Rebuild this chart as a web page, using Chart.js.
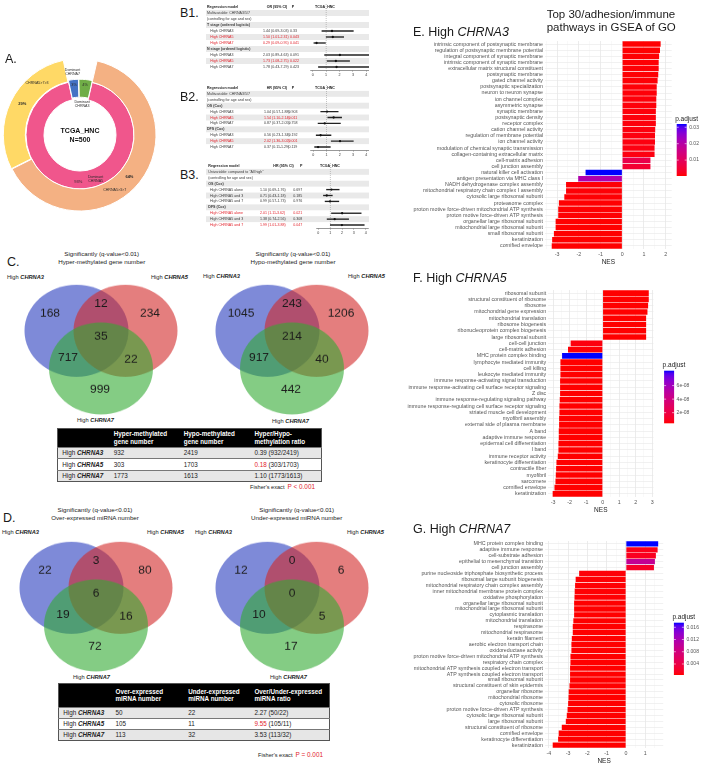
<!DOCTYPE html>
<html>
<head>
<meta charset="utf-8">
<title>CHRNA3/5/7 in TCGA_HNC</title>
<script src="https://cdn.jsdelivr.net/npm/chart.js@4.4.1/dist/chart.umd.min.js"></script>
<style>
  body { margin: 0; background: #fff; }
  #page { position: relative; width: 709px; height: 768px; overflow: hidden; background: #fff;
          font-family: "Liberation Sans", Arial, sans-serif; color: #1a1a1a; }
  #page canvas { position: absolute; }
  .t { position: absolute; white-space: nowrap; line-height: 1.15; }
  table.tb { position: absolute; border-collapse: collapse; table-layout: fixed; font-size: 6.3px; color: #222;
             border: 0.8px solid #555; }
  table.tb th { background: #000; color: #fff; text-align: left; font-weight: bold; padding: 0 0 0 4px; line-height: 1.2; }
  table.tb td { padding: 0 0 0 4px; border-top: 0.8px solid #777; }
  table.tb tr.g td { background: #e6e6e6; }
  .red { color: #e3232c; }
</style>
</head>
<body>
<div id="page"></div>
<script>
// ---------- A. dominant subunit, TCGA_HNC (N=500)
const domLabels = ['Dominant CHRNA5', 'Dominant CHRNA7', 'Dominant CHRNA3'];
const domPct = [93, 3, 4];
const orderLabels = ['CHRNA5>3>7', 'CHRNA5>7>3'];
const orderPct = [64, 29];

// ---------- B. regression models
const b1Rows = ['Multivariable: CHRNA3/5/7', '(controlling for age and sex)', 'T stage (ordered logistic)',
  'High CHRNA3', 'High CHRNA5', 'High CHRNA7', 'N stage (ordered logistic)', 'High CHRNA3', 'High CHRNA5', 'High CHRNA7'];
const b1Est = [null, null, null, 1.44, 1.50, 0.29, null, 2.03, 1.73, 1.78];
const b1Lo  = [null, null, null, 0.69, 1.01, 0.09, null, 0.89, 1.08, 0.43];
const b1Hi  = [null, null, null, 3.03, 2.31, 0.95, null, 4.63, 2.75, 7.29];
const b1P   = ['', '', '', '0.33', '0.043', '0.041', '', '0.091', '0.022', '0.423'];

const b2Rows = ['Multivariable: CHRNA3/5/7', '(controlling for age and sex)', 'OS (Cox)',
  'High CHRNA3', 'High CHRNA5', 'High CHRNA7', 'DFS (Cox)', 'High CHRNA3', 'High CHRNA5', 'High CHRNA7'];
const b2Est = [null, null, null, 1.04, 1.54, 0.87, null, 0.56, 2.02, 0.37];
const b2Lo  = [null, null, null, 0.57, 1.10, 0.37, null, 0.23, 1.36, 0.11];
const b2Hi  = [null, null, null, 1.88, 2.14, 2.05, null, 1.34, 3.02, 1.29];
const b2P   = ['', '', '', '0.903', '0.011', '0.758', '', '0.192', '0.001', '0.119'];

const b3Rows = ['Univariable: compared to "All high"', '(controlling for age and sex)', 'OS (Cox)',
  'High CHRNA5 alone', 'High CHRNA5 and 3', 'High CHRNA5 and 7', 'DFS (Cox)', 'High CHRNA5 alone', 'High CHRNA5 and 3', 'High CHRNA5 and 7'];
const b3Est = [null, null, null, 1.10, 0.71, 0.99, null, 2.01, 1.38, 1.99];
const b3Lo  = [null, null, null, 0.69, 0.43, 0.57, null, 1.11, 0.74, 1.01];
const b3Hi  = [null, null, null, 1.76, 1.18, 1.73, null, 3.62, 2.56, 3.88];
const b3P   = ['', '', '', '0.697', '0.185', '0.976', '', '0.021', '0.308', '0.047'];
const forestTicks = [0, 1, 2, 3, 4];

// ---------- C/D. Venn region counts: [only 3, only 5, only 7, 3&5, 3&7, 5&7, all]
const genes = ['CHRNA3', 'CHRNA5', 'CHRNA7'];
const vennHyper = [168, 234, 999, 12, 717, 22, 35];
const vennHypo  = [1045, 1206, 442, 243, 917, 40, 214];
const vennOver  = [22, 80, 72, 3, 19, 16, 6];
const vennUnder = [12, 6, 17, 0, 10, 5, 0];
const regionSets = [[0], [1], [2], [0, 1], [0, 2], [1, 2], [0, 1, 2]];

// ---------- E/F/G. GSEA of GO
const eTerms = ['intrinsic component of postsynaptic membrane', 'regulation of postsynaptic membrane potential',
  'integral component of synaptic membrane', 'intrinsic component of synaptic membrane',
  'extracellular matrix structural constituent', 'postsynaptic membrane', 'gated channel activity',
  'postsynaptic specialization', 'neuron to neuron synapse', 'ion channel complex', 'asymmetric synapse',
  'synaptic membrane', 'postsynaptic density', 'receptor complex', 'cation channel activity',
  'regulation of membrane potential', 'ion channel activity', 'modulation of chemical synaptic transmission',
  'collagen-containing extracellular matrix', 'cell-matrix adhesion', 'cell junction assembly',
  'natural killer cell activation', 'antigen presentation via MHC class I', 'NADH dehydrogenase complex assembly',
  'mitochondrial respiratory chain complex I assembly', 'cytosolic large ribosomal subunit', 'proteasome complex',
  'proton motive force-driven mitochondrial ATP synthesis', 'proton motive force-driven ATP synthesis',
  'organellar large ribosomal subunit', 'mitochondrial large ribosomal subunit', 'small ribosomal subunit',
  'keratinization', 'cornified envelope'];
const eNES = [1.77, 1.74, 1.70, 1.68, 1.68, 1.66, 1.63, 1.59, 1.59, 1.57, 1.57, 1.55, 1.55, 1.55, 1.52, 1.51, 1.51,
  1.49, 1.49, 1.30, 1.30, -1.69, -2.03, -2.59, -2.59, -2.67, -2.92, -2.95, -2.95, -3.07, -3.07, -3.15, -3.23, -3.25];
const ePadj = [0.0004, 0.0004, 0.0005, 0.0005, 0.0006, 0.0005, 0.0006, 0.0007, 0.0007, 0.0008, 0.0008, 0.0008,
  0.0009, 0.0009, 0.0010, 0.0010, 0.0011, 0.0012, 0.0012, 0.0075, 0.0045, 0.0320, 0.0210, 0.0006, 0.0006, 0.0005,
  0.0004, 0.0004, 0.0004, 0.0003, 0.0003, 0.0003, 0.0003, 0.0003];

const fTerms = ['ribosomal subunit', 'structural constituent of ribosome', 'ribosome', 'mitochondrial gene expression',
  'mitochondrial translation', 'ribosome biogenesis', 'ribonucleoprotein complex biogenesis', 'large ribosomal subunit',
  'cell-cell junction', 'cell-matrix adhesion', 'MHC protein complex binding', 'lymphocyte mediated immunity',
  'cell killing', 'leukocyte mediated immunity', 'immune response-activating signal transduction',
  'immune response-activating cell surface receptor signaling', 'Z disc', 'immune response-regulating signaling pathway',
  'immune response-regulating cell surface receptor signaling', 'striated muscle cell development', 'myofibril assembly',
  'external side of plasma membrane', 'A band', 'adaptive immune response', 'epidermal cell differentiation', 'I band',
  'immune receptor activity', 'keratinocyte differentiation', 'contractile fiber', 'myofibril', 'sarcomere',
  'cornified envelope', 'keratinization'];
const fNES = [2.79, 2.79, 2.75, 2.71, 2.63, 2.63, 2.63, 2.63, -1.94, -2.10, -2.46, -2.56, -2.56, -2.56, -2.58, -2.58,
  -2.58, -2.60, -2.62, -2.62, -2.64, -2.64, -2.66, -2.66, -2.68, -2.68, -2.72, -2.80, -2.82, -2.84, -2.86, -2.92, -3.03];
const fPadj = [4.3e-9, 4.3e-9, 4.3e-9, 4.3e-9, 4.3e-9, 4.3e-9, 4.3e-9, 4.3e-9, 6.1e-9, 5.2e-9, 8.2e-8, 4.3e-9, 4.3e-9,
  4.3e-9, 4.3e-9, 4.3e-9, 4.3e-9, 4.3e-9, 4.3e-9, 4.3e-9, 4.3e-9, 4.3e-9, 4.3e-9, 4.3e-9, 4.3e-9, 4.3e-9, 4.3e-9,
  4.3e-9, 4.3e-9, 4.3e-9, 4.3e-9, 4.3e-9, 4.3e-9];

const gTerms = ['MHC protein complex binding', 'adaptive immune response', 'cell-substrate adhesion',
  'epithelial to mesenchymal transition', 'cell junction assembly', 'purine nucleoside triphosphate biosynthetic process',
  'ribosomal large subunit biogenesis', 'mitochondrial respiratory chain complex assembly',
  'inner mitochondrial membrane protein complex', 'oxidative phosphorylation', 'organellar large ribosomal subunit',
  'mitochondrial large ribosomal subunit', 'cytoplasmic translation', 'mitochondrial translation', 'respirasome',
  'mitochondrial respirasome', 'keratin filament', 'aerobic electron transport chain', 'oxidoreductase activity',
  'proton motive force-driven mitochondrial ATP synthesis', 'respiratory chain complex',
  'mitochondrial ATP synthesis coupled electron transport', 'ATP synthesis coupled electron transport',
  'small ribosomal subunit', 'structural constituent of skin epidermis', 'organellar ribosome', 'mitochondrial ribosome',
  'cytosolic ribosome', 'proton motive force-driven ATP synthesis', 'cytosolic large ribosomal subunit',
  'large ribosomal subunit', 'structural constituent of ribosome', 'cornified envelope', 'keratinocyte differentiation',
  'keratinization'];
const gNES = [1.67, 1.64, 1.55, 1.50, 1.45, -2.43, -2.61, -2.64, -2.66, -2.67, -2.69, -2.69, -2.69, -2.73, -2.76, -2.76,
  -2.81, -2.83, -2.83, -2.88, -2.88, -2.90, -2.90, -2.90, -2.93, -2.97, -2.98, -3.00, -3.03, -3.07, -3.12, -3.33,
  -3.49, -3.52, -3.80];
const gPadj = [0.0175, 0.0012, 0.0015, 0.0098, 0.0020, 0.0006, 0.0005, 0.0005, 0.0005, 0.0005, 0.0004, 0.0004,
  0.0004, 0.0004, 0.0004, 0.0004, 0.0004, 0.0004, 0.0004, 0.0004, 0.0004, 0.0004, 0.0004, 0.0004, 0.0004, 0.0004,
  0.0004, 0.0004, 0.0004, 0.0004, 0.0004, 0.0004, 0.0004, 0.0004, 0.0004];

// ================= helpers =================
const FAM = '"Liberation Sans", Arial, sans-serif';
Chart.defaults.font.family = FAM;
Chart.defaults.animation = false;
Chart.defaults.responsive = false;
Chart.defaults.events = [];
Chart.defaults.plugins.legend.display = false;
Chart.defaults.plugins.tooltip.enabled = false;

const page = document.getElementById('page');

function mkCanvas(left, top, w, h, css) {
  const c = document.createElement('canvas');
  c.width = w; c.height = h;
  c.style.left = left + 'px'; c.style.top = top + 'px';
  if (css) Object.assign(c.style, css);
  page.appendChild(c);
  return c;
}

function addText(x, y, html, size, align, css) {
  const d = document.createElement('div');
  d.className = 't';
  d.innerHTML = html;
  d.style.left = x + 'px';
  d.style.top = y + 'px';
  d.style.fontSize = size + 'px';
  const tx = align === 'center' ? '-50%' : align === 'right' ? '-100%' : '0';
  d.style.transform = 'translate(' + tx + ',-50%)';
  if (css) Object.assign(d.style, css);
  page.appendChild(d);
  return d;
}

// ggplot-like red -> blue gradient (interpolated in Lab)
function toLin(c) { c /= 255; return c <= 0.04045 ? c / 12.92 : Math.pow((c + 0.055) / 1.055, 2.4); }
function toSrgb(c) { const v = c <= 0.0031308 ? 12.92 * c : 1.055 * Math.pow(c, 1 / 2.4) - 0.055; return Math.round(Math.max(0, Math.min(1, v)) * 255); }
function rgbToLab(rgb) {
  const [r, g, b] = rgb.map(toLin);
  const x = (r * 0.4124 + g * 0.3576 + b * 0.1805) / 0.95047;
  const y = r * 0.2126 + g * 0.7152 + b * 0.0722;
  const z = (r * 0.0193 + g * 0.1192 + b * 0.9505) / 1.08883;
  const f = t => t > 0.008856 ? Math.cbrt(t) : 7.787 * t + 16 / 116;
  return [116 * f(y) - 16, 500 * (f(x) - f(y)), 200 * (f(y) - f(z))];
}
function labToRgb(lab) {
  const fy = (lab[0] + 16) / 116, fx = fy + lab[1] / 500, fz = fy - lab[2] / 200;
  const inv = t => t * t * t > 0.008856 ? t * t * t : (t - 16 / 116) / 7.787;
  const x = inv(fx) * 0.95047, y = inv(fy), z = inv(fz) * 1.08883;
  return [x * 3.2406 - y * 1.5372 - z * 0.4986, -x * 0.9689 + y * 1.8758 + z * 0.0415, x * 0.0557 - y * 0.2040 + z * 1.0570].map(toSrgb);
}
const LAB_LO = rgbToLab([255, 0, 0]), LAB_HI = rgbToLab([0, 0, 255]);
function padjColor(t) {
  const c = labToRgb(LAB_LO.map((v, i) => v + (LAB_HI[i] - v) * t));
  return 'rgb(' + c.join(',') + ')';
}

// ================= A. doughnut =================
const ringText = {
  id: 'ringText',
  afterDraw(chart, args, o) {
    const ctx = chart.ctx;
    ctx.save();
    ctx.textAlign = 'center';
    ctx.textBaseline = 'middle';
    o.items.forEach(it => {
      const arc = chart.getDatasetMeta(it.ds).data[it.idx];
      const p = arc.getProps(['x', 'y', 'startAngle', 'endAngle', 'innerRadius', 'outerRadius']);
      const off = arc.options.offset || 0;
      const mid = (p.startAngle + p.endAngle) / 2;
      const a = p.startAngle + it.af * (p.endAngle - p.startAngle);
      const r = p.innerRadius + it.rf * (p.outerRadius - p.innerRadius);
      const cx = p.x + Math.cos(mid) * off + Math.cos(a) * r;
      const cy = p.y + Math.sin(mid) * off + Math.sin(a) * r;
      ctx.font = (it.bold ? 'bold ' : '') + it.size + 'px ' + FAM;
      ctx.fillStyle = '#2a2a2a';
      it.lines.forEach((t, k) => ctx.fillText(t, cx, cy + (k - (it.lines.length - 1) / 2) * it.size * 1.1));
    });
    const c0 = chart.getDatasetMeta(0).data[0];
    ctx.font = 'bold 7px ' + FAM;
    ctx.fillStyle = '#111';
    ctx.fillText('TCGA_HNC', c0.x, c0.y - 3.6);
    ctx.fillText('N=' + o.n, c0.x, c0.y + 4.6);
    ctx.restore();
  }
};

const splitDom = s => s.split(' ');
new Chart(mkCanvas(-5, 45, 170, 180), {
  type: 'doughnut',
  data: {
    labels: ['a', 'b', 'c'],
    datasets: [
      { data: [...orderPct, 100 - orderPct[0] - orderPct[1]], weight: 22,
        backgroundColor: ['#f4b183', '#ffd966', 'rgba(0,0,0,0)'], borderColor: '#fff',
        borderWidth: [1, 1, 0], offset: [0, 3, 0] },
      { data: domPct, weight: 18,
        backgroundColor: ['#f0568c', '#4472c4', '#70ad47'], borderColor: '#fff',
        borderWidth: 1, offset: [0, 4, 4] }
    ]
  },
  options: {
    radius: 76,
    cutout: '47.4%',
    rotation: 13,
    layout: { padding: 0, autoPadding: false },
    plugins: {
      ringText: {
        n: 500,
        items: [
          { ds: 0, idx: 1, af: 0.53, rf: 0.4, size: 4, bold: true, lines: [orderPct[1] + '%'] },
          { ds: 0, idx: 1, af: 0.75, rf: 0.5, size: 3.6, lines: [orderLabels[1]] },
          { ds: 0, idx: 0, af: 0.51, rf: 0.5, size: 4, bold: true, lines: [orderPct[0] + '%'] },
          { ds: 0, idx: 0, af: 0.585, rf: 0.5, size: 3.6, lines: [orderLabels[0]] },
          { ds: 1, idx: 0, af: 0.505, rf: 0.6, size: 4, lines: [domPct[0] + '%'] },
          { ds: 1, idx: 0, af: 0.44, rf: 0.58, size: 3.6, lines: splitDom(domLabels[0]) },
          { ds: 1, idx: 1, af: 0.5, rf: 0.55, size: 3.8, lines: [domPct[1] + '%'] },
          { ds: 1, idx: 2, af: 0.5, rf: 0.55, size: 3.8, lines: [domPct[2] + '%'] },
          { ds: 1, idx: 1, af: 0.5, rf: 1.28, size: 3.6, lines: splitDom(domLabels[1]) },
          { ds: 1, idx: 2, af: 0.35, rf: -0.5, size: 3.6, lines: splitDom(domLabels[2]) }
        ]
      }
    }
  },
  plugins: [ringText]
});
addText(5, 59, 'A.', 12.5, 'left');

// ================= B. forest tables =================
const forestTable = {
  id: 'forestTable',
  beforeDatasetsDraw(chart, args, o) {
    const { ctx, chartArea, scales: { x, y } } = chart;
    const labels = chart.data.labels;
    const band = y.getPixelForValue(1) - y.getPixelForValue(0);
    ctx.save();
    labels.forEach((lab, i) => {
      if (i % 2 === 1) {
        ctx.fillStyle = '#e9e9e9';
        ctx.fillRect(1, y.getPixelForValue(i) - band / 2, chart.width - 1, band);
      }
    });
    const x1 = x.getPixelForValue(1);
    ctx.strokeStyle = '#8a8a8a'; ctx.lineWidth = 0.5; ctx.setLineDash([1, 1]);
    ctx.beginPath(); ctx.moveTo(x1, y.getPixelForValue(0) - band / 2); ctx.lineTo(x1, chartArea.bottom); ctx.stroke();
    ctx.setLineDash([]);
    ctx.textBaseline = 'middle';
    labels.forEach((lab, i) => {
      const yc = y.getPixelForValue(i);
      if (i === 0) {
        ctx.font = 'bold ' + o.size + 'px ' + FAM; ctx.fillStyle = '#222';
        [lab, o.effHead, 'P', 'TCGA_HNC'].forEach((h, k) => ctx.fillText(h, o.headX[k], yc));
        return;
      }
      const e = chart.data.datasets[1].data[i];
      const ci = chart.data.datasets[0].data[i];
      const group = e == null && i >= 3;
      const sig = e != null && parseFloat(o.pv[i - 1]) < 0.05;
      ctx.font = (group ? 'bold ' : '') + o.size + 'px ' + FAM;
      ctx.fillStyle = sig ? '#e3232c' : '#3a3a3a';
      ctx.fillText(lab, e == null ? o.labelX : o.labelX + o.indent, yc);
      if (e != null) {
        ctx.fillText(e.toFixed(2) + ' (' + ci[0].toFixed(2) + '-' + ci[1].toFixed(2) + ')', o.valX, yc);
        ctx.fillText(o.pv[i - 1], o.pX, yc);
      }
    });
    ctx.restore();
  }
};

function forest(canvas, rows, est, lo, hi, pv, effHead, geo) {
  const labels = ['Regression model', ...rows];
  const ci = [null, ...rows.map((r, i) => est[i] == null ? null : [lo[i], hi[i]])];
  return new Chart(canvas, {
    type: 'bar',
    data: {
      labels,
      datasets: [
        { type: 'bar', indexAxis: 'y', data: ci, backgroundColor: '#222', barThickness: 0.7, clip: 0, order: 2 },
        { type: 'line', indexAxis: 'y', data: [null, ...est], showLine: false, pointRadius: 1.15,
          pointBackgroundColor: '#111', pointBorderWidth: 0, order: 1 }
      ]
    },
    options: {
      indexAxis: 'y',
      layout: { padding: { left: geo.left, right: geo.right, top: 0, bottom: 0 }, autoPadding: false },
      scales: {
        y: { display: false },
        x: {
          min: -0.2, max: 4.2,
          afterBuildTicks: s => { s.ticks = forestTicks.map(v => ({ value: v })); },
          afterFit: s => { s.height = 9; s.paddingLeft = 0; s.paddingRight = 0; },
          grid: { drawOnChartArea: false, drawTicks: true, tickLength: 1.5, color: '#333', lineWidth: 0.5 },
          border: { display: true, color: '#333', width: 0.5 },
          ticks: { font: { size: 3.6 }, color: '#333', padding: 1, maxRotation: 0, autoSkip: false }
        }
      },
      plugins: { forestTable: Object.assign({ pv, effHead, size: 3.6 }, geo.text) }
    },
    plugins: [forestTable]
  });
}

forest(mkCanvas(205, 4, 164, 75), b1Rows, b1Est, b1Lo, b1Hi, b1P, 'OR (95% CI)',
  { left: 105, right: 0, text: { headX: [2, 61.7, 86.7, 110], labelX: 2, indent: 3.3, valX: 58, pX: 85 } });
forest(mkCanvas(205, 85, 164, 74), b2Rows, b2Est, b2Lo, b2Hi, b2P, 'HR (95% CI)',
  { left: 105.5, right: 0, text: { headX: [2, 61.7, 86.7, 110], labelX: 2, indent: 3.3, valX: 59, pX: 83.5 } });
forest(mkCanvas(205, 163, 164, 74), b3Rows, b3Est, b3Lo, b3Hi, b3P, 'HR (95% CI)',
  { left: 111, right: 1, text: { headX: [3.3, 68.3, 95, 115], labelX: 3.3, indent: 1.7, valX: 55, pX: 88.3 } });
addText(180, 13, 'B1.', 12.5, 'left');
addText(180, 96.5, 'B2.', 12.5, 'left');
addText(180, 175, 'B3.', 12.5, 'left');

// ================= C/D. Venn diagrams =================
const vennSets = [[-24.5, 21], [24.5, 21], [0, -21.4]];
const vennColors = ['rgba(40,60,190,0.6)', 'rgba(210,40,40,0.6)', 'rgba(50,170,50,0.6)'];
const vennSpots = [[-51, 40], [49, 40], [-1, -45.5], [0, 51], [-33, -10], [30, -12], [0, 14]];

const vennText = {
  id: 'vennText',
  afterDatasetsDraw(chart, args, o) {
    const { ctx, scales: { x, y } } = chart;
    ctx.save();
    ctx.font = '12px ' + FAM; ctx.fillStyle = '#1a1a1a';
    ctx.textAlign = 'center'; ctx.textBaseline = 'middle';
    o.counts.forEach((n, k) => ctx.fillText(String(n), x.getPixelForValue(vennSpots[k][0]), y.getPixelForValue(vennSpots[k][1])));
    ctx.restore();
  }
};

function venn(left, top, counts) {
  return new Chart(mkCanvas(left, top, 160, 150, { transform: 'scaleY(0.885)', transformOrigin: '0 0' }), {
    type: 'bubble',
    data: {
      datasets: vennSets.map((s, k) => ({
        data: [{ x: s[0], y: s[1], r: 52 }], backgroundColor: vennColors[k], borderWidth: 0,
        order: 3 - k, clip: false
      }))
    },
    options: {
      layout: { padding: 0, autoPadding: false },
      scales: { x: { display: false, min: -80, max: 80 }, y: { display: false, min: -75, max: 75 } },
      plugins: { vennText: { counts } }
    },
    plugins: [vennText]
  });
}

venn(21, 282.6, vennHyper);
venn(212, 282.6, vennHypo);
venn(16, 539.8, vennOver);
venn(212, 539.8, vennUnder);

const hi = g => 'High <b><i>' + g + '</i></b>';
function vennLabels(p) {
  addText(p.x3, p.yTop, hi(genes[0]), 5.7, 'left');
  addText(p.x5, p.yTop, hi(genes[1]), 5.7, 'left');
  addText(p.x7, p.yBot, hi(genes[2]), 5.7, 'left');
  addText(p.cx, p.t1, 'Significantly (q-value&lt;0.01)', 6.2, 'center');
  addText(p.cx, p.t1 + 8.1, p.title, 6.2, 'center');
}
vennLabels({ x3: 7, x5: 151, x7: 77, yTop: 276.7, yBot: 420, cx: 101.7, t1: 253.5, title: 'Hyper-methylated gene number' });
vennLabels({ x3: 203, x5: 348, x7: 272, yTop: 275.5, yBot: 421, cx: 293, t1: 254, title: 'Hypo-methylated gene number' });
vennLabels({ x3: 2, x5: 147, x7: 73, yTop: 532, yBot: 677, cx: 95, t1: 510, title: 'Over-expressed miRNA number' });
vennLabels({ x3: 195, x5: 347, x7: 270, yTop: 532, yBot: 677, cx: 296.7, t1: 510, title: 'Under-expressed miRNA number' });
addText(7, 262, 'C.', 12.5, 'left');
addText(3, 518, 'D.', 12.5, 'left');

// tables built from the Venn counts
const setTotal = (counts, g) => counts.reduce((s, n, k) => s + (regionSets[k].includes(g) ? n : 0), 0);
function countTable(left, top, colW, headH, rowH, heads, a, b, redRow) {
  let h = '<table class="tb" style="left:' + left + 'px;top:' + top + 'px;width:' + colW.reduce((s, w) => s + w, 0) + 'px">';
  h += '<colgroup>' + colW.map(w => '<col style="width:' + w + 'px">').join('') + '</colgroup>';
  h += '<tr style="height:' + headH + 'px">' + heads.map(t => '<th>' + t + '</th>').join('') + '</tr>';
  genes.forEach((g, i) => {
    const x = setTotal(a, i), y = setTotal(b, i);
    const ratio = (x / y).toFixed(2);
    h += '<tr class="' + (i % 2 === 0 ? 'g' : '') + '" style="height:' + rowH + 'px"><td>' + hi(g) + '</td><td>' + x +
      '</td><td>' + y + '</td><td><span class="' + (i === redRow ? 'red' : '') + '">' + ratio + '</span> (' + x + '/' + y + ')</td></tr>';
  });
  page.insertAdjacentHTML('beforeend', h + '</table>');
}
countTable(57.3, 428.3, [52, 70, 70.7, 70.7], 18.4, 11.5,
  ['', 'Hyper-methylated<br>gene number', 'Hypo-methylated<br>gene number', 'Hyper/Hypo-<br>methylation ratio'],
  vennHyper, vennHypo, 1);
countTable(58.3, 683, [52.7, 72.7, 66.3, 79.3], 23.7, 11.1,
  ['', 'Over-expressed<br>miRNA number', 'Under-expressed<br>miRNA number', 'Over/Under-expressed<br>miRNA ratio'],
  vennOver, vennUnder, 1);
addText(315, 487, "Fisher's exact&nbsp;&nbsp;<span class=\"red\" style=\"font-size:6.4px\">P &lt; 0.001</span>", 5.6, 'right');
addText(323, 755, "Fisher's exact&nbsp;&nbsp;<span class=\"red\" style=\"font-size:6.4px\">P = 0.001</span>", 5.6, 'right');

// ================= E/F/G. GSEA bars =================
const colorbar = {
  id: 'colorbar',
  afterDraw(chart, args, o) {
    const { ctx, chartArea } = chart;
    const x0 = chartArea.right + o.dx, w = 10, top = o.top, h = o.h;
    const g = ctx.createLinearGradient(0, top + h, 0, top);
    for (let i = 0; i <= 20; i++) g.addColorStop(i / 20, padjColor(i / 20));
    ctx.save();
    ctx.fillStyle = g;
    ctx.fillRect(x0, top, w, h);
    ctx.font = '5px ' + FAM; ctx.fillStyle = '#555';
    ctx.textBaseline = 'middle'; ctx.textAlign = 'left';
    ctx.strokeStyle = '#fff'; ctx.lineWidth = 0.6;
    o.ticks.forEach((v, k) => {
      const yy = top + h - (v - o.lo) / (o.hi - o.lo) * h;
      ctx.beginPath();
      ctx.moveTo(x0, yy); ctx.lineTo(x0 + 2, yy);
      ctx.moveTo(x0 + w - 2, yy); ctx.lineTo(x0 + w, yy);
      ctx.stroke();
      ctx.fillText(o.labels[k], x0 + w + 2.5, yy);
    });
    ctx.font = '6.5px ' + FAM; ctx.fillStyle = '#222'; ctx.textBaseline = 'alphabetic';
    ctx.fillText('p.adjust', x0 - 1.5, top - 3.5);
    ctx.restore();
  }
};

function gsea(canvas, terms, nes, padj, geo) {
  const lo = Math.min(...padj), hiP = Math.max(...padj);
  return new Chart(canvas, {
    type: 'bar',
    data: {
      labels: terms,
      datasets: [{ data: nes, backgroundColor: padj.map(p => padjColor((p - lo) / (hiP - lo))),
        borderWidth: 0, barPercentage: 1, categoryPercentage: 0.9 }]
    },
    options: {
      indexAxis: 'y',
      layout: { padding: { left: 0, right: geo.padRight, top: 0, bottom: 0 }, autoPadding: false },
      scales: {
        x: {
          min: geo.min, max: geo.max,
          afterBuildTicks: s => {
            const t = [];
            for (let v = Math.ceil(s.min * 2) / 2; v <= s.max + 1e-9; v += 0.5) t.push({ value: v });
            s.ticks = t;
          },
          afterFit: s => { s.height = 20; s.paddingLeft = 0; s.paddingRight = 0; },
          grid: {
            drawTicks: false,
            color: c => (c.tick && Number.isInteger(c.tick.value)) ? '#e4e4e4' : '#f2f2f2',
            lineWidth: c => (c.tick && Number.isInteger(c.tick.value)) ? 0.7 : 0.5
          },
          border: { display: false },
          ticks: { font: { size: 5.3 }, color: '#555', padding: 2.5, maxRotation: 0, autoSkip: false,
            callback: v => Number.isInteger(v) ? String(v) : '' },
          title: { display: true, text: 'NES', font: { size: 6.5 }, color: '#222', padding: { top: 0, bottom: 3 } }
        },
        y: {
          afterFit: s => { s.width = geo.yW; s.paddingTop = 0; s.paddingBottom = 0; },
          grid: { offset: false, drawTicks: false, color: '#e8e8e8', lineWidth: 0.6 },
          border: { display: false },
          ticks: { font: { size: 5.3 }, color: '#555', padding: 2, autoSkip: false }
        }
      },
      plugins: { colorbar: Object.assign({ lo, hi: hiP }, geo.legend) }
    },
    plugins: [colorbar]
  });
}

gsea(mkCanvas(362, 41, 345, 228), eTerms, eNES, ePadj,
  { min: -3.56, max: 2.28, yW: 183, padRight: 35.3,
    legend: { dx: 5, top: 83, h: 52, ticks: [0.01, 0.02, 0.03], labels: ['0.01', '0.02', '0.03'] } });
gsea(mkCanvas(362, 290, 345, 227), fTerms, fNES, fPadj,
  { min: -3.3, max: 3.07, yW: 186.2, padRight: 53.6,
    legend: { dx: 10.7, top: 80.7, h: 52.6, ticks: [2e-8, 4e-8, 6e-8], labels: ['2e-08', '4e-08', '6e-08'] } });
gsea(mkCanvas(362, 541, 345, 227), gTerms, gNES, gPadj,
  { min: -4.2, max: 1.93, yW: 183, padRight: 43.8,
    legend: { dx: 10.7, top: 81.7, h: 52.3, ticks: [0.004, 0.008, 0.012, 0.016], labels: ['0.004', '0.008', '0.012', '0.016'] } });

addText(546.7, 15, 'Top 30/adhesion/immune', 11.5, 'left');
addText(546.7, 28.3, 'pathways in GSEA of GO', 11.5, 'left');
addText(413, 31.7, 'E. High <i>' + genes[0] + '</i>', 12.5, 'left');
addText(413, 278.3, 'F. High <i>' + genes[1] + '</i>', 12.5, 'left');
addText(413, 529, 'G. High <i>' + genes[2] + '</i>', 12.5, 'left');
</script>
</body>
</html>
